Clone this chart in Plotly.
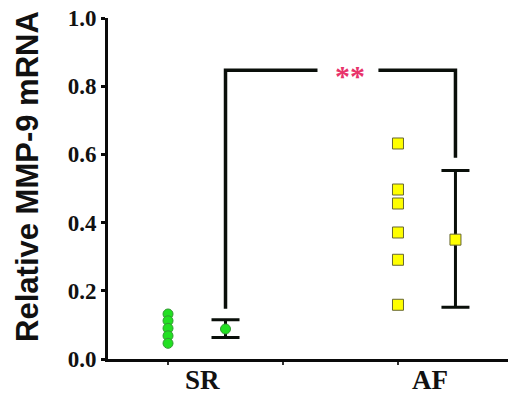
import plotly.graph_objects as go

# Data
sr_values = [0.132, 0.112, 0.090, 0.068, 0.046]
af_values = [0.632, 0.497, 0.456, 0.371, 0.291, 0.159]
group_labels = ["SR", "AF"]
mean_values = [0.088, 0.350]
err_plus = [0.027, 0.203]
err_minus = [0.025, 0.198]
y_ticks = [0.0, 0.2, 0.4, 0.6, 0.8, 1.0]
sig_text = "**"
y_title = "Relative MMP-9 mRNA"

x_points = [1, 3]
x_means = [1.5, 3.5]
x_label_pos = [1.3, 3.28]

fig = go.Figure()

# individual points
fig.add_trace(go.Scatter(
    x=[x_points[0]] * len(sr_values), y=sr_values, mode="markers",
    marker=dict(symbol="circle", size=10, color="#22e022",
                line=dict(color="#339933", width=1)),
    showlegend=False, hoverinfo="skip"))
fig.add_trace(go.Scatter(
    x=[x_points[1]] * len(af_values), y=af_values, mode="markers",
    marker=dict(symbol="square", size=11, color="#ffff00",
                line=dict(color="#666633", width=1)),
    showlegend=False, hoverinfo="skip"))

# significance bracket
bx = [x_means[0], x_means[0], 2.30, None, 2.83, x_means[1], x_means[1]]
by = [0.147, 0.847, 0.847, None, 0.847, 0.847, 0.59]
fig.add_trace(go.Scatter(x=bx, y=by, mode="lines",
                         line=dict(color="#0a0f0a", width=3.5),
                         showlegend=False, hoverinfo="skip"))

# mean + error bars
fig.add_trace(go.Scatter(
    x=[x_means[0]], y=[mean_values[0]], mode="markers",
    error_y=dict(type="data", symmetric=False, array=[err_plus[0]],
                 arrayminus=[err_minus[0]], color="#0a0f0a", thickness=3, width=14),
    marker=dict(symbol="circle", size=10, color="#22e022",
                line=dict(color="#339933", width=1)),
    showlegend=False, hoverinfo="skip"))
fig.add_trace(go.Scatter(
    x=[x_means[1]], y=[mean_values[1]], mode="markers",
    error_y=dict(type="data", symmetric=False, array=[err_plus[1]],
                 arrayminus=[err_minus[1]], color="#0a0f0a", thickness=3, width=14),
    marker=dict(symbol="square", size=11, color="#ffff00",
                line=dict(color="#666633", width=1)),
    showlegend=False, hoverinfo="skip"))

annotations = [
    dict(x=2.58, y=0.847, xref="x", yref="y", text="<b>%s</b>" % sig_text, showarrow=False,
         font=dict(family="Liberation Serif", size=30, color="#e8336b"),
         yshift=-5),
    dict(x=-0.2, y=0.534, xref="paper", yref="paper", text="<b>%s</b>" % y_title,
         showarrow=False, textangle=-90, xanchor="center", yanchor="middle",
         font=dict(family="Liberation Sans", size=31, color="#111")),
]
for lab, xp in zip(group_labels, x_label_pos):
    annotations.append(dict(x=xp, y=0, xref="x", yref="y", text="<b>%s</b>" % lab,
                            showarrow=False, yanchor="top", yshift=-4,
                            font=dict(family="Liberation Serif", size=27, color="#111")))

fig.update_layout(
    width=508, height=396,
    margin=dict(l=108, r=0, t=18, b=37, autoexpand=False),
    paper_bgcolor="white", plot_bgcolor="white",
    xaxis=dict(range=[0.478, 3.957], showgrid=False, zeroline=False,
               showline=True, linecolor="#0a0a0a", linewidth=3,
               tickvals=[1, 2, 3], ticktext=["", "", ""], ticks="outside",
               ticklen=3, tickwidth=1.5, tickcolor="#333"),
    yaxis=dict(range=[0, 1], showgrid=False, zeroline=False,
               showline=True, linecolor="#0a0a0a", linewidth=3,
               tickvals=y_ticks, ticktext=["<b>%.1f</b>" % v for v in y_ticks],
               ticks="outside", ticklen=4, tickwidth=3, tickcolor="#0a0a0a",
               ticklabeloverflow="allow",
               tickfont=dict(family="Liberation Serif", size=23, color="#111")),
    annotations=annotations,
)

fig.write_html("out.html", config={"displayModeBar": False},
               post_script="document.body.style.margin='0';")
